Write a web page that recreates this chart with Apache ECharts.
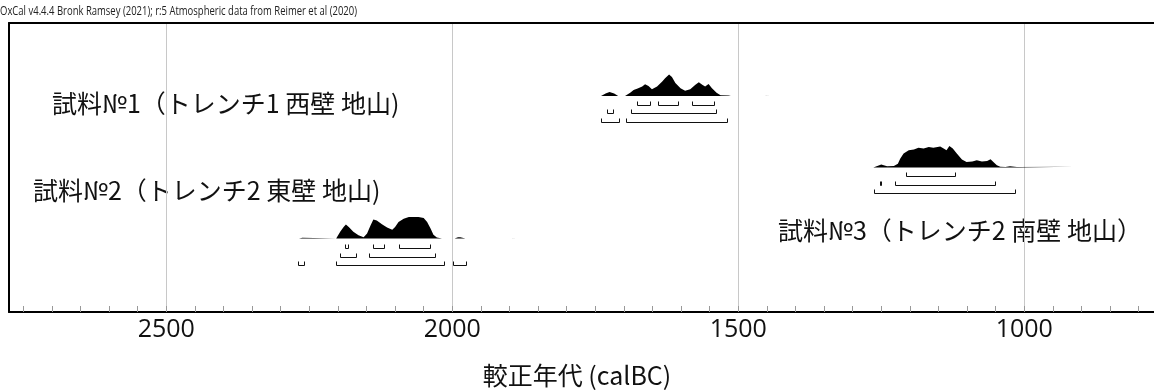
<!DOCTYPE html>
<html><head><meta charset="utf-8">
<script src="https://cdn.jsdelivr.net/npm/echarts@6/dist/echarts.min.js"></script>
<style>html,body{margin:0;padding:0;background:#fff;overflow:hidden}#c{width:1170px;height:392px}</style>
</head><body><div id="c"></div>
<script>
// ---- data ----
const titleText = 'OxCal v4.4.4 Bronk Ramsey (2021); r:5 Atmospheric data from Reimer et al (2020)';
const axisName = '較正年代 (calBC)';
const majorTicks = [2500, 2000, 1500, 1000];
const sampleNames = ['試料№1（トレンチ1 西壁 地山)', '試料№2（トレンチ2 東壁 地山)', '試料№3（トレンチ2 南壁 地山）'];

// relative probability (peak = 1) vs calBC year
const dens1 = [[1740,0],[1732,0.12],[1725,0.19],[1717,0.12],[1710,0],
  [1698,0],[1689,0.15],[1683,0.28],[1676,0.35],[1668,0.44],[1663,0.55],[1657,0.47],[1651,0.31],[1642,0.44],
  [1633,0.67],[1628,0.83],[1621,1.0],[1616,0.88],[1610,0.60],[1601,0.36],[1593,0.25],[1584,0.31],[1575,0.52],
  [1569,0.64],[1563,0.52],[1558,0.44],[1552,0.56],[1546,0.36],[1538,0.15],[1531,0.03],[1517,0.02],[1513,0],
  [1453,0],[1452,0.03],[1446,0.03],[1445,0]];
const dens2 = [[2268,0],[2267,0.04],[2262,0.04],[2261,0],
  [2203,0],[2196,0.31],[2190,0.54],[2186,0.65],[2181,0.54],[2173,0.31],[2164,0.15],[2155,0.06],[2149,0.23],
  [2143,0.61],[2138,0.88],[2132,0.84],[2123,0.66],[2114,0.51],[2105,0.41],[2100,0.54],[2094,0.77],[2085,0.92],
  [2076,1.0],[2068,1.0],[2059,1.0],[2050,0.95],[2044,0.77],[2038,0.46],[2033,0.18],[2027,0.05],[2018,0],
  [1996,0],[1990,0.06],[1986,0.06],[1977,0],
  [1897,0],[1896,0.03],[1885,0.03],[1884,0]];
const dens3 = [[1264,0],[1250,0.14],[1240,0.06],[1228,0.07],[1221,0.18],[1217,0.41],[1211,0.65],[1202,0.80],
  [1193,0.84],[1185,0.92],[1176,0.88],[1167,0.95],[1159,0.92],[1147,0.98],[1141,0.88],[1136,0.80],[1131,1.0],
  [1125,0.88],[1118,0.65],[1109,0.37],[1101,0.26],[1091,0.28],[1083,0.34],[1074,0.28],[1065,0.30],[1059,0.38],
  [1054,0.26],[1048,0.11],[1042,0.03],[1033,0.02],[1025,0.06],[1013,0.02],[1012,0.035],[914,0.035],[913,0]];

// ranges [from, to] calBC : rows 68.3%, 95.4%, 99.7%
const ranges1 = [[[1677,1654],[1640,1606],[1581,1543]], [[1729.5,1719],[1688,1538.5]], [[1739.5,1709],[1696,1520]]];
const ranges2 = [[[2187,2183],[2139,2120],[2093,2038.5]], [[2196,2168],[2146,2031]], [[2269,2260],[2203,2015],[1998,1976]]];
const ranges3 = [[[1207,1122]], [[1252,1250],[1225.5,1052]], [[1263.5,1017]]];

// ---- layout ----
const baseY = [96, 238.5, 167.5];
const rowY = [[104.5,113,121.5],[248,256.5,265],[176,184.5,193]];
const peakPx = 21.5;
const labelPos = [[52,103],[33,190],[778,230]];

const dens = [dens1, dens2, dens3];
const ranges = [ranges1, ranges2, ranges3];

const minorTicks = [];
for (let v = 2750; v >= 800; v -= 50) minorTicks.push(v);

const series = [];
dens.forEach((d, i) => {
  series.push({
    type: 'line', xAxisIndex: 0, yAxisIndex: 0, symbol: 'none', silent: true,
    data: d.map(p => [p[0], baseY[i] - p[1] * peakPx]),
    lineStyle: { width: 0 },
    itemStyle: { color: '#000' },
    areaStyle: { color: '#000', opacity: 1, origin: baseY[i] },
    z: 3
  });
});
const bracketData = [];
ranges.forEach((rs, i) => rs.forEach((row, r) => row.forEach(rg => bracketData.push([rg[0], rg[1], i, r]))));
series.push({
  type: 'custom', xAxisIndex: 0, yAxisIndex: 0, silent: true, z: 3,
  data: bracketData,
  renderItem: function (params, api) {
    const i = api.value(2), r = api.value(3);
    const y = rowY[i][r];
    const a = api.coord([api.value(0), y]);
    const b = api.coord([api.value(1), y]);
    const x1 = Math.round(a[0]) + 0.5, x2 = Math.round(b[0]) + 0.5, yy = Math.round(a[1]) + 0.5;
    return {
      type: 'polyline',
      shape: { points: [[x1, yy - 4], [x1, yy], [x2, yy], [x2, yy - 4]] },
      style: { stroke: '#111', lineWidth: 1, fill: null }
    };
  }
});

const graphic = [
  { type: 'text', x: 0, y: 5, scaleX: 0.73, style: { text: titleText, font: '13px "Open Sans", sans-serif', fill: '#222' } }
];
sampleNames.forEach((n, i) => graphic.push({
  type: 'text', x: labelPos[i][0], y: labelPos[i][1],
  style: { text: n, font: '25px "Noto Sans CJK JP"', fill: '#111', verticalAlign: 'middle', textAlign: 'left' }
}));
graphic.push({ type: 'text', x: 577, y: 375, style: { text: axisName, font: '25px "Noto Sans CJK JP"', fill: '#111', textAlign: 'center', verticalAlign: 'middle' } });

const xMin = 768, xMax = 2775;
const chart = echarts.init(document.getElementById('c'), null, { renderer: 'canvas' });
chart.setOption({
  animation: false,
  backgroundColor: '#fff',
  grid: { left: 9, top: 23, right: 13, bottom: 80, show: false },
  xAxis: [
    { type: 'value', inverse: true, min: xMin, max: xMax, position: 'bottom',
      axisLine: { show: true, onZero: false, lineStyle: { color: '#000', width: 2 } },
      axisTick: { show: true, inside: true, length: 6, customValues: minorTicks, lineStyle: { color: '#999', width: 1 } },
      axisLabel: { show: false }, splitLine: { show: false } },
    { type: 'value', inverse: true, min: xMin, max: xMax, position: 'bottom',
      axisLine: { show: false, onZero: false },
      axisTick: { show: false, customValues: majorTicks },
      axisLabel: { show: true, customValues: majorTicks, formatter: v => String(v), fontSize: 25, color: '#111', margin: 5, fontFamily: '"Open Sans", sans-serif' },
      splitLine: { show: true, lineStyle: { color: '#c8c8c8', width: 1 } } },
    { type: 'value', inverse: true, min: xMin, max: xMax, position: 'top',
      axisLine: { show: true, onZero: false, lineStyle: { color: '#000', width: 2 } },
      axisTick: { show: false }, axisLabel: { show: false }, splitLine: { show: false } }
  ],
  yAxis: { type: 'value', min: 23, max: 312, inverse: true, position: 'left',
    axisLine: { show: true, onZero: false, lineStyle: { color: '#000', width: 2 } },
    axisTick: { show: false }, axisLabel: { show: false }, splitLine: { show: false } },
  graphic: graphic,
  series: series
});
</script></body></html>
